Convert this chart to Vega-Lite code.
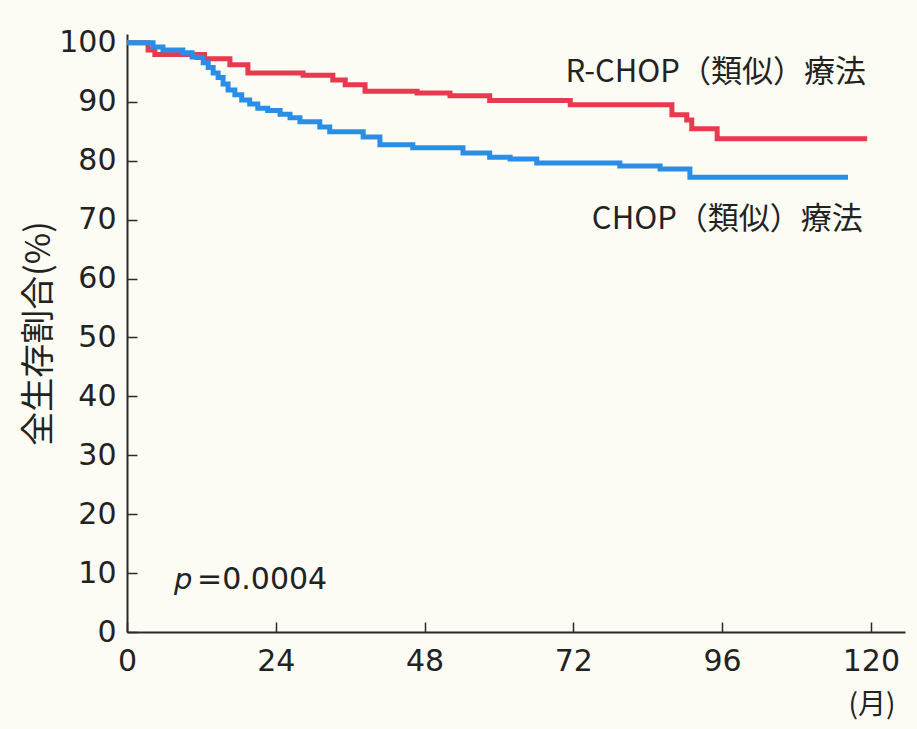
{
  "$schema": "https://vega.github.io/schema/vega-lite/v6.json",
  "width": 778,
  "height": 598,
  "autosize": {"type": "none"},
  "padding": {"left": 127, "top": 34, "right": 12, "bottom": 97},
  "background": "#fcfbf4",
  "config": {
    "view": {"stroke": null},
    "axis": {
      "grid": false,
      "domainColor": "#2a2a2a",
      "domainWidth": 2,
      "tickColor": "#2a2a2a",
      "tickWidth": 1.5,
      "tickSize": -10,
      "labelFlush": false,
      "labelColor": "#222222",
      "labelFont": "DejaVu Sans",
      "titleColor": "#222222",
      "titleFont": "Noto Sans CJK JP",
      "titleFontWeight": "normal"
    }
  },
  "datasets": {
    "km": [
      {"month": 0, "pct": 100, "group": "R-CHOP"},
      {"month": 3.4, "pct": 98.8, "group": "R-CHOP"},
      {"month": 4.5, "pct": 98.0, "group": "R-CHOP"},
      {"month": 12.5, "pct": 97.3, "group": "R-CHOP"},
      {"month": 16.6, "pct": 96.3, "group": "R-CHOP"},
      {"month": 19.5, "pct": 94.9, "group": "R-CHOP"},
      {"month": 28.4, "pct": 94.5, "group": "R-CHOP"},
      {"month": 33.2, "pct": 93.7, "group": "R-CHOP"},
      {"month": 35.2, "pct": 92.9, "group": "R-CHOP"},
      {"month": 38.4, "pct": 91.8, "group": "R-CHOP"},
      {"month": 46.8, "pct": 91.5, "group": "R-CHOP"},
      {"month": 52.1, "pct": 91.0, "group": "R-CHOP"},
      {"month": 58.5, "pct": 90.2, "group": "R-CHOP"},
      {"month": 71.5, "pct": 89.5, "group": "R-CHOP"},
      {"month": 87.9, "pct": 87.8, "group": "R-CHOP"},
      {"month": 90.3, "pct": 86.9, "group": "R-CHOP"},
      {"month": 91.1, "pct": 85.4, "group": "R-CHOP"},
      {"month": 95.2, "pct": 83.7, "group": "R-CHOP"},
      {"month": 119.4, "pct": 83.7, "group": "R-CHOP"},
      {"month": 0, "pct": 100, "group": "CHOP"},
      {"month": 4.2, "pct": 99.3, "group": "CHOP"},
      {"month": 5.8, "pct": 98.8, "group": "CHOP"},
      {"month": 9.0, "pct": 98.3, "group": "CHOP"},
      {"month": 10.5, "pct": 97.6, "group": "CHOP"},
      {"month": 11.3, "pct": 97.5, "group": "CHOP"},
      {"month": 12.3, "pct": 96.6, "group": "CHOP"},
      {"month": 13.1, "pct": 95.8, "group": "CHOP"},
      {"month": 13.9, "pct": 94.9, "group": "CHOP"},
      {"month": 14.7, "pct": 94.1, "group": "CHOP"},
      {"month": 15.5, "pct": 93.0, "group": "CHOP"},
      {"month": 16.3, "pct": 92.0, "group": "CHOP"},
      {"month": 17.4, "pct": 91.2, "group": "CHOP"},
      {"month": 18.5, "pct": 90.3, "group": "CHOP"},
      {"month": 19.8, "pct": 89.6, "group": "CHOP"},
      {"month": 21.1, "pct": 88.9, "group": "CHOP"},
      {"month": 22.7, "pct": 88.5, "group": "CHOP"},
      {"month": 24.7, "pct": 87.9, "group": "CHOP"},
      {"month": 26.3, "pct": 87.3, "group": "CHOP"},
      {"month": 27.9, "pct": 86.6, "group": "CHOP"},
      {"month": 31.1, "pct": 85.7, "group": "CHOP"},
      {"month": 32.7, "pct": 84.9, "group": "CHOP"},
      {"month": 38.1, "pct": 84.0, "group": "CHOP"},
      {"month": 40.8, "pct": 82.7, "group": "CHOP"},
      {"month": 46.1, "pct": 82.2, "group": "CHOP"},
      {"month": 54.2, "pct": 81.3, "group": "CHOP"},
      {"month": 58.5, "pct": 80.6, "group": "CHOP"},
      {"month": 61.8, "pct": 80.3, "group": "CHOP"},
      {"month": 66.1, "pct": 79.6, "group": "CHOP"},
      {"month": 79.5, "pct": 79.1, "group": "CHOP"},
      {"month": 86.0, "pct": 78.6, "group": "CHOP"},
      {"month": 90.8, "pct": 77.2, "group": "CHOP"},
      {"month": 116.3, "pct": 77.2, "group": "CHOP"}
    ]
  },
  "layer": [
    {
      "data": {"name": "km"},
      "mark": {"type": "line", "interpolate": "step-after", "strokeWidth": 5},
      "encoding": {
        "x": {
          "field": "month",
          "type": "quantitative",
          "scale": {"domain": [0, 125.5], "nice": false, "zero": false},
          "axis": {
            "values": [0, 24, 48, 72, 96, 120],
            "labelFontSize": 30,
            "labelPadding": 24,
            "title": "(月)",
            "titleFontSize": 28,
            "titleAlign": "right",
            "titleBaseline": "middle",
            "titleX": 768,
            "titleY": 73
          }
        },
        "y": {
          "field": "pct",
          "type": "quantitative",
          "scale": {"domain": [0, 101.5], "nice": false},
          "axis": {
            "values": [0, 10, 20, 30, 40, 50, 60, 70, 80, 90, 100],
            "labelFontSize": 30,
            "labelPadding": 21,
            "title": "全生存割合(%)",
            "titleFontSize": 34,
            "titlePadding": 2
          }
        },
        "color": {
          "field": "group",
          "type": "nominal",
          "scale": {"domain": ["R-CHOP", "CHOP"], "range": ["#e8394f", "#2a8de6"]},
          "legend": null
        },
        "order": {"field": "month", "type": "quantitative"}
      }
    },
    {
      "data": {"values": [{"label": "R-CHOP（類似）療法"}]},
      "mark": {"type": "text", "align": "right", "baseline": "middle", "font": "Noto Sans CJK JP", "fontSize": 31, "color": "#222222"},
      "encoding": {
        "x": {"datum": 119.2, "type": "quantitative"},
        "y": {"datum": 94.9, "type": "quantitative"},
        "text": {"field": "label"}
      }
    },
    {
      "data": {"values": [{"label": "CHOP（類似）療法"}]},
      "mark": {"type": "text", "align": "right", "baseline": "middle", "font": "Noto Sans CJK JP", "fontSize": 31, "color": "#222222"},
      "encoding": {
        "x": {"datum": 118.7, "type": "quantitative"},
        "y": {"datum": 70.0, "type": "quantitative"},
        "text": {"field": "label"}
      }
    },
    {
      "data": {"values": [{"label": "p"}]},
      "mark": {"type": "text", "align": "left", "baseline": "alphabetic", "font": "DejaVu Sans", "fontStyle": "italic", "fontSize": 29, "color": "#222222"},
      "encoding": {
        "x": {"datum": 7.6, "type": "quantitative"},
        "y": {"datum": 7.3, "type": "quantitative"},
        "text": {"field": "label"}
      }
    },
    {
      "data": {"values": [{"label": "=0.0004"}]},
      "mark": {"type": "text", "align": "left", "baseline": "alphabetic", "font": "DejaVu Sans", "fontSize": 30, "color": "#222222"},
      "encoding": {
        "x": {"datum": 11.3, "type": "quantitative"},
        "y": {"datum": 7.3, "type": "quantitative"},
        "text": {"field": "label"}
      }
    }
  ]
}
